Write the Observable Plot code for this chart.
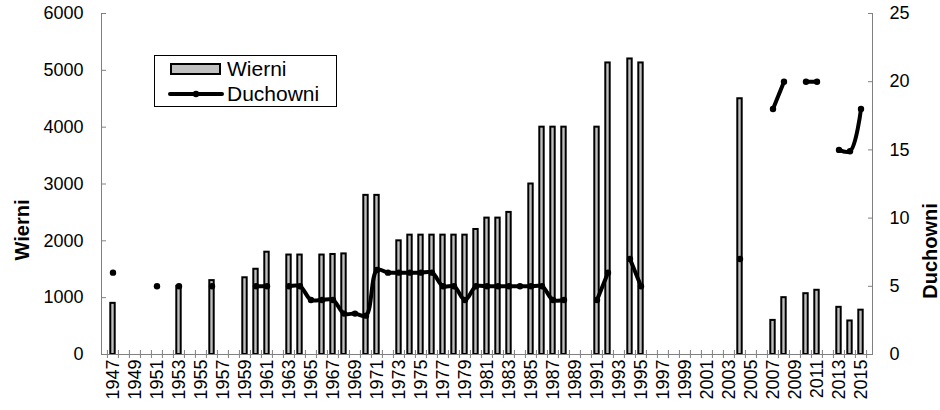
<!DOCTYPE html>
<html>
<head>
<meta charset="utf-8">
<script src="https://cdn.jsdelivr.net/npm/d3@7"></script>
<script src="https://cdn.jsdelivr.net/npm/@observablehq/plot@0.6"></script>
<style>
  html, body { margin: 0; padding: 0; background: #fff; }
  #wrap { position: relative; width: 940px; height: 410px; font-family: "Liberation Sans", Arial, sans-serif; }
  #legend { position: absolute; left: 154px; top: 55px; width: 181px; height: 50px; border: 1px solid #000; background: #fff; }
  .item { position: absolute; left: 0; height: 24px; display: flex; align-items: center; font-size: 21px; color: #000; }
  .item svg { display: block; margin-left: 13px; margin-right: 3px; }
</style>
</head>
<body>
<div id="wrap">
  <div id="chart"></div>
  <div id="legend">
    <div class="item" style="top:1px"><svg width="56" height="14"><rect x="3" y="2" width="49" height="10" fill="#c0c0c0" stroke="#000" stroke-width="2"></rect></svg>Wierni</div>
    <div class="item" style="top:26px"><svg width="56" height="14"><line x1="2" y1="7" x2="54" y2="7" stroke="#000" stroke-width="4" stroke-linecap="round"></line><circle cx="28" cy="7" r="3.2" fill="#000"></circle></svg>Duchowni</div>
  </div>
</div>
<script>
const years = [1947,1948,1949,1950,1951,1952,1953,1954,1955,1956,1957,1958,1959,1960,1961,1962,1963,1964,1965,1966,1967,1968,1969,1970,1971,1972,1973,1974,1975,1976,1977,1978,1979,1980,1981,1982,1983,1984,1985,1986,1987,1988,1989,1990,1991,1992,1993,1994,1995,1996,1997,1998,1999,2000,2001,2002,2003,2004,2005,2006,2007,2008,2009,2010,2011,2012,2013,2014,2015];

const wierni = [900,null,null,null,null,null,1200,null,null,1300,null,null,1350,1500,1800,null,1750,1750,null,1750,1760,1770,null,2800,2800,null,2000,2100,2100,2100,2100,2100,2100,2200,2400,2400,2500,null,3000,4000,4000,4000,null,null,4000,5130,null,5200,5130,null,null,null,null,null,null,null,null,4500,null,null,600,1000,null,1070,1130,null,830,590,780];

const duchowni = [6,null,null,null,5,null,5,null,null,5,null,null,null,5,5,null,5,5,4,4,4,3,3,2.85,6.2,6,6,6,6,6,5,5,4,5,5,5,5,5,5,5,4,4,null,null,4,6,null,7,5,null,null,null,null,null,null,null,null,7,null,null,18,20,null,20,20,null,15,14.9,18];

const wierniTicks = [0,1000,2000,3000,4000,5000,6000];
const duchowniTicks = [0,5,10,15,20,25];
const labelYears = years.filter(y => y % 2 === 1);

const wierniMax = 6000, duchowniMax = 25;
const k = wierniMax / duchowniMax;

const rows = years.map((year, i) => ({year, w: wierni[i], d: duchowni[i]}));

const W = 940, H = 410, mL = 101, mR = 68, mT = 13, mB = 56;
const bw = (W - mL - mR) / years.length;
const axisColor = "#808080";

const chart = Plot.plot({
  width: W, height: H,
  marginLeft: mL, marginRight: mR, marginTop: mT, marginBottom: mB,
  x: {type: "band", domain: years, padding: 0},
  y: {domain: [0, wierniMax]},
  style: {fontFamily: "'Liberation Sans', Arial, sans-serif", fontSize: "18px", background: "white", color: "black", overflow: "visible"},
  marks: [
    Plot.barY(rows.filter(r => r.w != null), {x: "year", y: "w", fill: "#c0c0c0", stroke: "black", strokeWidth: 2, insetLeft: 3.3, insetRight: 3.3}),
    Plot.frame({anchor: "left", stroke: axisColor}),
    Plot.frame({anchor: "right", stroke: axisColor}),
    Plot.ruleY([0], {stroke: axisColor}),
    // left axis
    Plot.axisY({anchor: "left", ticks: wierniTicks, tickSize: 5, dx: 5, tickFormat: () => "", label: null, stroke: axisColor}),
    Plot.axisY({anchor: "left", ticks: wierniTicks, tickSize: 0, tickPadding: 18, tickFormat: d => String(d), label: null}),
    // right axis
    Plot.axisY({anchor: "right", ticks: duchowniTicks.map(v => v * k), tickSize: 5, dx: -5, tickFormat: () => "", label: null, stroke: axisColor}),
    Plot.axisY({anchor: "right", ticks: duchowniTicks.map(v => v * k), tickSize: 0, tickPadding: 17, tickFormat: v => String(Math.round(v / k)), label: null}),
    // x axis
    Plot.axisX({ticks: years, tickSize: 8, dy: -4, dx: -bw / 2, tickFormat: () => "", label: null, stroke: axisColor}),
    Plot.axisX({ticks: [years[years.length - 1]], tickSize: 8, dy: -4, dx: bw / 2, tickFormat: () => "", label: null, stroke: axisColor}),
    Plot.axisX({ticks: labelYears, tickSize: 0, tickPadding: 5, tickRotate: -90, tickFormat: d => String(d), label: null}),
    // line
    Plot.line(rows, {x: "year", y: d => d.d == null ? NaN : d.d * k, stroke: "black", strokeWidth: 4, curve: "catmull-rom", strokeLinejoin: "round", strokeLinecap: "round"}),
    Plot.dot(rows.filter(r => r.d != null), {x: "year", y: d => d.d * k, r: 3.2, fill: "black"})
  ]
});

document.getElementById("chart").appendChild(chart);

const svg = d3.select(chart);
svg.selectAll("text").each(function() {
  const t = this.textContent;
  if (!t) return;
  const isYear = /^(19|20)\d\d$/.test(t);
  d3.select(this).style("font-size", isYear ? "18px" : "18px").style("font-family", "'Liberation Sans', Arial, sans-serif");
});

svg.append("text")
  .attr("transform", "translate(29,230) rotate(-90)")
  .attr("text-anchor", "middle")
  .attr("font-weight", "bold")
  .style("font-size", "20px")
  .attr("fill", "black")
  .text("Wierni");
svg.append("text")
  .attr("transform", "translate(937,251) rotate(-90)")
  .attr("text-anchor", "middle")
  .attr("font-weight", "bold")
  .style("font-size", "20px")
  .attr("fill", "black")
  .text("Duchowni");
</script>
</body>
</html>
